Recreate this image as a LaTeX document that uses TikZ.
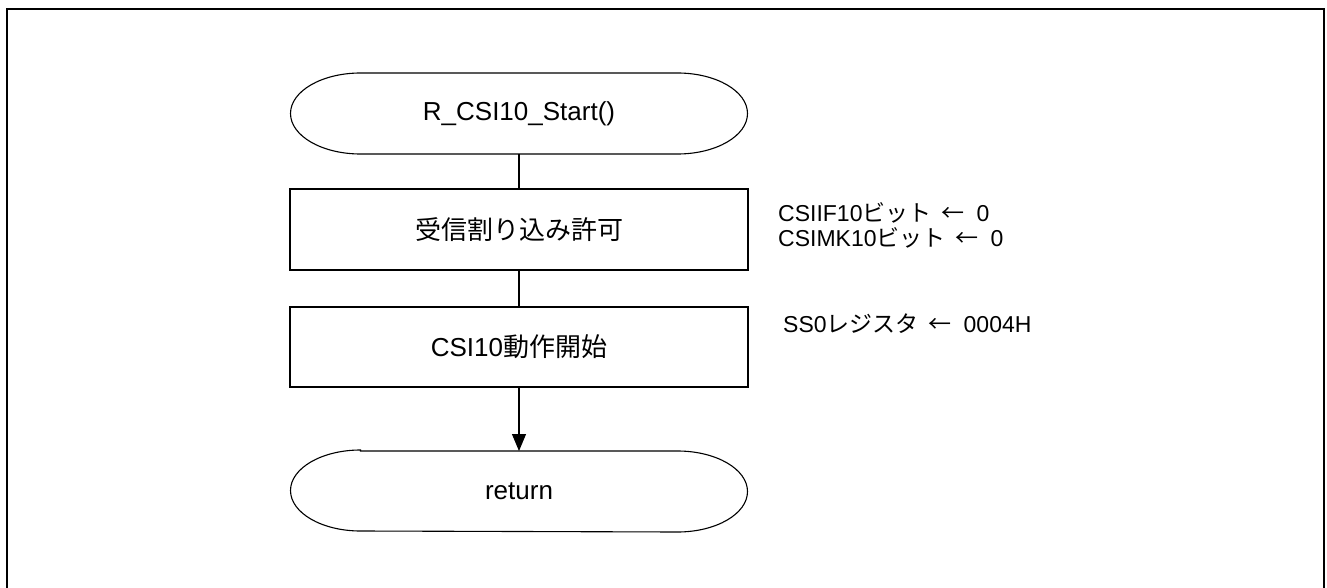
\documentclass[tikz,border=0pt]{standalone}
\usepackage{fontspec}
\setmainfont{Liberation Sans}
\newfontfamily\jp{Noto Sans CJK JP}
\usetikzlibrary{arrows.meta}
\tikzset{
  shapeline/.style={line width=1.1pt, draw=black},
  procbox/.style={rectangle, shapeline, minimum width=458pt, minimum height=81pt, inner sep=0pt, outer sep=0pt, font=\fontsize{26}{30}\selectfont},
  termbox/.style={rectangle, draw=none, minimum width=457pt, minimum height=81pt, inner sep=0pt, outer sep=0pt, font=\fontsize{26}{30}\selectfont},
  note/.style={anchor=west, align=left, inner sep=0pt, font=\fontsize{23}{25}\selectfont},
  flow/.style={line width=1.1pt},
}
\newcommand{\larr}{\hspace{10pt}{\jp ←}\hspace{12pt}}
\newcommand{\termshape}[1]{%
  \draw[shapeline] ([xshift=70pt]#1.north west) -- ([xshift=-70pt]#1.north east)
    arc[start angle=90,end angle=-90,x radius=70pt,y radius=40.5pt]
    -- ([xshift=70pt]#1.south west)
    arc[start angle=270,end angle=90,x radius=70pt,y radius=40.5pt] -- cycle;}
\begin{document}
\begin{tikzpicture}[x=1pt,y=-1pt]
\useasboundingbox (0,0) rectangle (1327,588);
\draw[line width=1.8pt] (7,620) -- (7,9) -- (1324,9) -- (1324,620);

\node[termbox] (start) at (519,113.5) {R\_CSI10\_Start()};
\termshape{start}
\node[procbox] (b1) at (519,229.5) {{\jp 受信割り込み許可}};
\node[procbox, minimum height=80pt] (b2) at (519,347) {CSI10{\jp 動作開始}};
\node[termbox, minimum height=80pt] (ret) at (519,491) {return};
\termshape{ret}

\draw[flow] (start) -- (b1);
\draw[flow] (b1) -- (b2);
\draw[flow, -{Triangle[length=17pt,width=14pt]}] (b2) -- (ret);

\node[note] (n1) at (778,225.5) {CSIIF10{\jp ビット}\larr 0\\CSIMK10{\jp ビット}\larr 0};
\node[note] (n2) at (783,324) {SS0{\jp レジスタ}\larr 0004H};
\end{tikzpicture}
\end{document}
